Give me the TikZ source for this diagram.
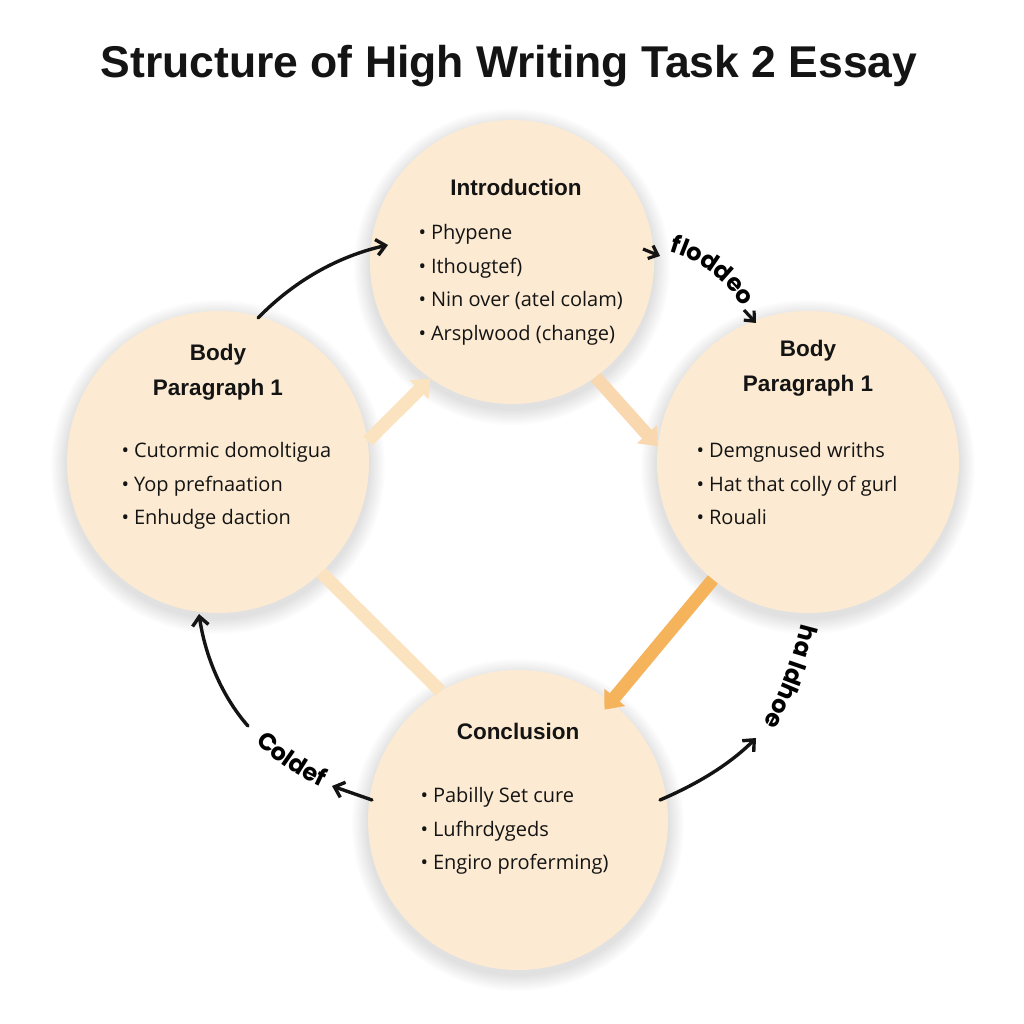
\documentclass[tikz,border=0pt]{standalone}
\usepackage{fontspec}
\setmainfont{Open Sans}
\newfontfamily\titlefont{Liberation Sans}
\newfontfamily\handfont{Poppins}
\usetikzlibrary{arrows.meta,decorations.text,bending}
\definecolor{peach}{HTML}{FCEBD2}
\definecolor{palelink}{HTML}{FCE3BF}
\definecolor{midlink}{HTML}{F9D8B0}
\definecolor{orangelink}{HTML}{F5B35C}
\definecolor{ink}{HTML}{141414}
\tikzset{
  circ/.style={circle, fill=peach, draw=none, inner sep=0pt},
  shadowdisc/.style={fill=black, fill opacity=0.011, draw=none},
  head/.style={font=\titlefont\bfseries\fontsize{22.5}{25}\selectfont, text=ink, align=center},
  items/.style={font=\fontsize{20}{33.5}\selectfont, text=ink, align=left, anchor=north west},
  thicklink/.style={line width=13pt, -{Triangle[width=26pt,length=16pt]}},
  plainlink/.style={line width=13pt},
  curvearrow/.style={line width=3.4pt, draw=ink, line cap=round, -{Straight Barb[length=9pt,width=16pt,line width=3.4pt]}},
  chev/.style={line width=3.2pt, draw=ink, -{Straight Barb[length=8pt,width=14pt,line width=3.2pt]}},
}
\newcommand{\bul}{\textbullet\hspace{5pt}}
\newcommand{\softshadow}[3]{%
  \foreach \k in {1,...,10}{\fill[shadowdisc] (#1,#2+5) circle[radius=#3+1.6*\k];}}
\begin{document}
\begin{tikzpicture}[x=1pt,y=-1pt]
\useasboundingbox[fill=white] (0,0) rectangle (1024,1024);

% title
\node[font=\titlefont\bfseries\fontsize{44.5}{48}\selectfont, text=ink] (title) at (509,66) {Structure of High Writing Task 2 Essay};

% soft shadows
\softshadow{512}{262}{142}
\softshadow{218}{462}{151}
\softshadow{808}{462}{151}
\softshadow{518}{820}{150}

% circles
\node[circ, minimum size=284pt] (intro) at (512,262) {};
\node[circ, minimum size=302pt] (left) at (218,462) {};
\node[circ, minimum size=302pt] (right) at (808,462) {};
\node[circ, minimum size=300pt] (conc) at (518,820) {};

% thick links
\draw[palelink, plainlink] (left.-47) -- (conc.121);
\draw[palelink, thicklink] (left.8) -- (intro.235);
\draw[midlink, thicklink] (intro.-54) -- (right.174);
\draw[orangelink, thicklink] (right.231) -- ([shift={(-6pt,-8pt)}]conc.52);

% circle texts
\node[head] (introhead) at (516,187) {Introduction};
\node[items] (introitems) at (415,221) {\bul Phypene\\ \bul Ithougtef)\\ \bul Nin over (atel colam)\\ \bul Arsplwood (change)};

\node[head] (lefthead) at (218,372) {Body\\[10pt]Paragraph 1};
\node[items] (leftitems) at (118,439) {\bul Cutormic domoltigua\\ \bul Yop prefnaation\\ \bul Enhudge daction};

\node[head] (righthead) at (808,368) {Body\\[10pt]Paragraph 1};
\node[items] (rightitems) at (693,439) {\bul Demgnused wriths\\ \bul Hat that colly of gurl\\ \bul Rouali};

\node[head] (conchead) at (518,731) {Conclusion};
\node[items] (concitems) at (417,784) {\bul Pabilly Set cure\\ \bul Lufhrdygeds\\ \bul Engiro proferming)};

% black curved arrows
\coordinate (a1s) at (258,318);
\coordinate (a1e) at (388,245);
\draw[curvearrow] (a1s) .. controls (295,280) and (340,255) .. (a1e);

\coordinate (c1s) at (643,249);
\coordinate (c1e) at (660,256);
\draw[chev] (c1s) -- (c1e);
\coordinate (t1s) at (664,250);
\coordinate (t1e) at (746,312);
\path[decorate, decoration={text along path, text align=center,
  text={|\handfont\bfseries\fontsize{24}{24}\selectfont|floddeo}}]
  (t1s) .. controls (700,258) and (728,282) .. (t1e);
\coordinate (c2s) at (744,310);
\coordinate (c2e) at (756,323);
\draw[chev] (c2s) -- (c2e);

\coordinate (a3s) at (660,800);
\coordinate (a3e) at (756,738);
\draw[curvearrow] (a3s) .. controls (695,785) and (730,765) .. (a3e);
\coordinate (t3s) at (806,604);
\coordinate (t3e) at (752,740);
\path[decorate, decoration={text along path, text align=center,
  text={|\handfont\bfseries\fontsize{24}{24}\selectfont|ha ldhoe}}]
  (t3s) .. controls (796,650) and (780,700) .. (t3e);

\coordinate (a4s) at (248,726);
\coordinate (a4e) at (199,614);
\draw[curvearrow] (a4s) .. controls (225,700) and (205,660) .. (a4e);
\coordinate (t4s) at (250,737);
\coordinate (t4e) at (328,790);
\path[decorate, decoration={text along path, text align=center,
  text={|\handfont\bfseries\fontsize{24}{24}\selectfont|Coldef}}]
  (t4s) .. controls (275,762) and (300,778) .. (t4e);
\coordinate (a5s) at (372,800);
\coordinate (a5e) at (332,786);
\draw[curvearrow] (a5s) -- (a5e);
\end{tikzpicture}
\end{document}
